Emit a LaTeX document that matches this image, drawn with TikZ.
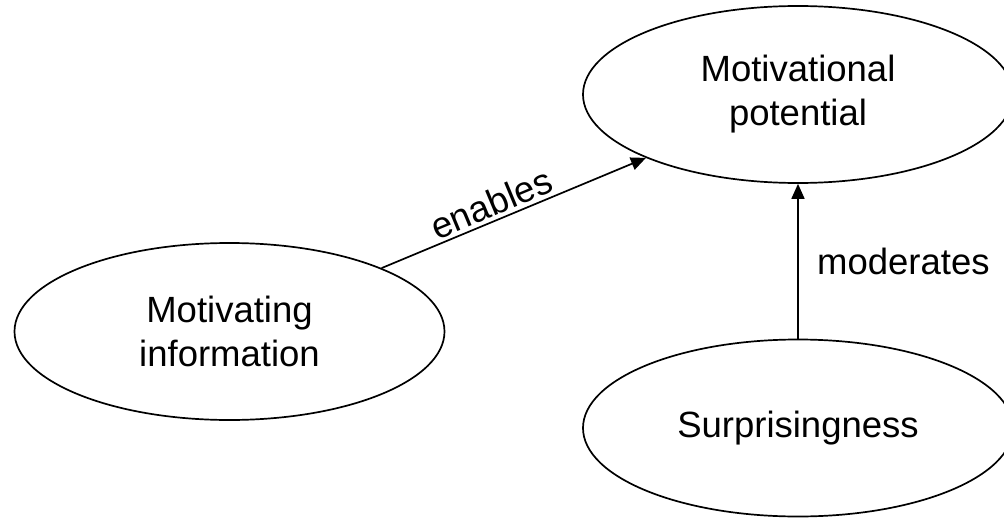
\documentclass[tikz,border=0pt]{standalone}
\usepackage{fontspec}
\setmainfont{Liberation Sans}
\usetikzlibrary{arrows.meta,shapes.geometric}

\begin{document}
\begin{tikzpicture}[x=1pt,y=-1pt,
  concept/.style={ellipse,draw,line width=1.7pt,inner sep=0pt,
    minimum width=430pt,minimum height=177pt,align=center,
    font=\fontsize{36.5}{44}\selectfont},
  link/.style={line width=1.7pt,-{Triangle[length=15pt,width=13pt]}},
  lbl/.style={font=\fontsize{36.5}{44}\selectfont}]
  \useasboundingbox (0,0) rectangle (1004,519);

  \node[concept] (mp) at (798,94.5) {Motivational\\potential};
  \node[concept] (mi) at (229.5,331.5) {Motivating\\information};
  \node[concept] (su) at (798,428) {Surprisingness};

  \draw[link] (mi) -- node[lbl,sloped,pos=0.44,above] {enables} (mp);
  \draw[link] (su) -- node[lbl,right=15pt] {moderates} (mp);
\end{tikzpicture}
\end{document}
